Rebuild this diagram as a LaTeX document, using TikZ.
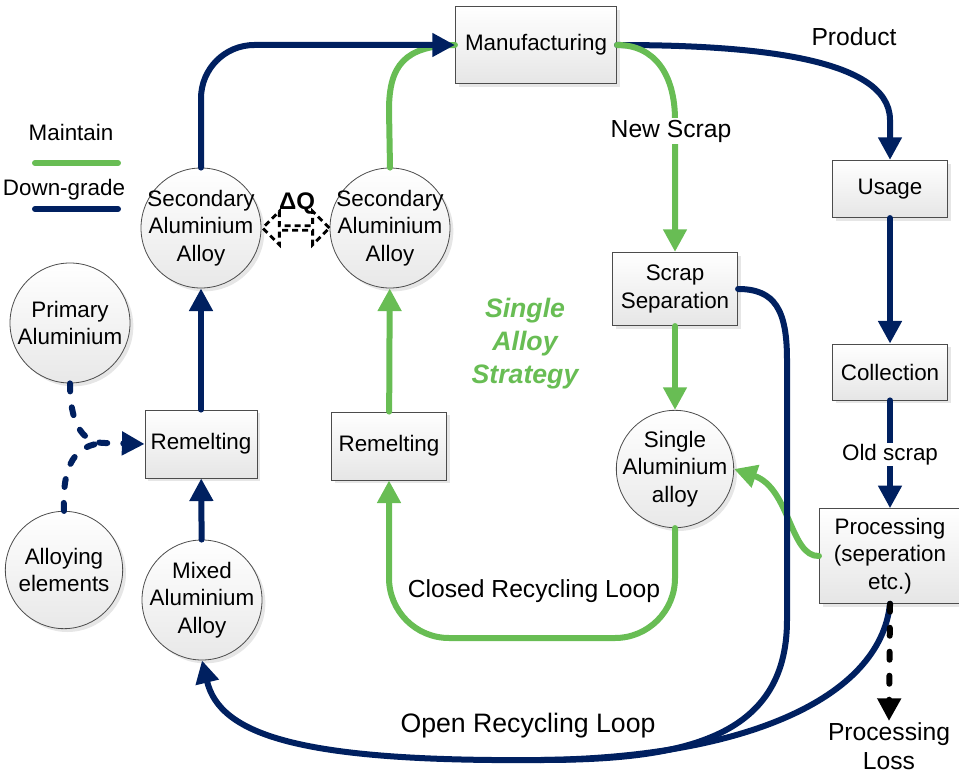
\documentclass[tikz,border=0pt]{standalone}
\usepackage{fontspec}
\setmainfont{Liberation Sans}
\usetikzlibrary{arrows.meta,positioning,shapes.arrows,shadows}
\definecolor{dgnavy}{RGB}{0,32,96}
\definecolor{mtgreen}{RGB}{104,189,84}

\begin{document}
\begin{tikzpicture}[x=0.75pt,y=-0.75pt,
	every node/.style={font=\fontsize{16.8}{20.6}\selectfont},
	stagebox/.style={draw=black!70,line width=0.6pt,top color=white,bottom color=black!10,
		drop shadow={shadow xshift=2.5pt,shadow yshift=-2.5pt,opacity=.2},align=center,inner sep=1pt},
	alloyball/.style={circle,draw=black!70,line width=0.6pt,top color=white,bottom color=black!9,
		drop shadow={shadow xshift=2.5pt,shadow yshift=-2.5pt,opacity=.2},align=center,inner sep=-5pt,minimum size=90pt},
	lbl/.style={align=center,inner sep=1pt},
	biglbl/.style={lbl,font=\fontsize{18.5}{21.5}\selectfont},
	bigtip/.style={-{Triangle[width=17pt,length=17pt]}},
	dgline/.style={draw=dgnavy,line width=4.5pt,line cap=round},
	mtline/.style={draw=mtgreen,line width=4.5pt,line cap=round},
	dgflow/.style={dgline,bigtip},
	mtflow/.style={mtline,bigtip},
	dashflow/.style={line width=4.5pt,line cap=round,dash pattern=on 6pt off 12pt,bigtip},
]
	\useasboundingbox (0,0) rectangle (959,773);

	\node[stagebox,minimum width=121pt,minimum height=58pt] (manu) at (536,45) {Manufacturing};
	\node[stagebox,minimum width=86pt,minimum height=43pt] (usage) at (890,189) {Usage};
	\node[stagebox,minimum width=86pt,minimum height=42pt] (collect) at (890,372) {Collection};
	\node[stagebox,minimum width=106pt,minimum height=71pt] (process) at (890,556) {Processing\\(seperation\\etc.)};
	\node[stagebox,minimum width=94pt,minimum height=55pt] (sep) at (675,289) {Scrap\\Separation};
	\node[stagebox,minimum width=84pt,minimum height=51pt] (remL) at (201,444) {Remelting};
	\node[stagebox,minimum width=86pt,minimum height=51pt] (remR) at (389,446) {Remelting};

	\node[alloyball] (secL) at (201,228) {Secondary\\Aluminium\\Alloy};
	\node[alloyball] (secR) at (390,228) {Secondary\\Aluminium\\Alloy};
	\node[alloyball] (prim) at (70,323) {Primary\\Aluminium};
	\node[alloyball,minimum size=88pt] (alloying) at (64,570) {Alloying\\elements};
	\node[alloyball] (mixed) at (202,600) {Mixed\\Aluminium\\Alloy};
	\node[alloyball,minimum size=88pt] (single) at (675,469) {Single\\Aluminium\\alloy};

	\node[biglbl] (loss) at (889,746) {Processing\\Loss};
	\node[biglbl] (product) at (854,37) {Product};
	\node[biglbl] (closedlbl) at (534,591) {Closed Recycling Loop};
	\node[lbl,font=\fontsize{20}{22}\selectfont] (openlbl) at (528,726) {Open Recycling Loop};
	\node[lbl,text=mtgreen,font=\fontsize{20}{24.8}\selectfont\bfseries\itshape] (strategy) at (525,344) {Single\\Alloy\\Strategy};

	\node[double arrow,draw=black,line width=2.2pt,dash pattern=on 4.5pt off 3pt,fill=white,
		minimum height=50pt,minimum width=25pt,double arrow head extend=7pt,inner sep=0pt] (dq) at (296,228) {};
	\node[font=\fontsize{18}{20}\selectfont\bfseries] (dqlbl) at (297,203) {ΔQ};

	\node (keeplbl) at (71,132) {Maintain};
	\node (downlbl) at (64,190) {Down-grade};
	\coordinate (keepA) at (35,163);
	\coordinate (keepB) at (118,163);
	\coordinate (downA) at (35,209);
	\coordinate (downB) at (118,209);
	\draw[mtline] (keepA) -- (keepB);
	\draw[dgline] (downA) -- (downB);

	\draw[mtline] (secR.north) -- (389,110) .. controls (389,65) and (405,46) .. (manu.west);
	\draw[dgflow,rounded corners=40pt] (secL.north) |- (manu.west);
	\draw[dgflow] (manu.east) .. controls (740,45) and (890,55) .. (890,120) -- (usage.north);
	\draw[mtflow] (manu.east) .. controls (655,45) and (675,75) .. (675,120) -- (sep.north);
	\node[biglbl,fill=white] (newscrap) at (671,131) {New Scrap};

	\draw[dgflow] (usage) -- (collect);
	\draw[dgflow] (collect) -- node[lbl,fill=white] (oldscrap) {Old scrap} (process);

	\draw[mtflow] (sep) -- (single);
	\draw[mtflow] (process.west) .. controls (790,557) and (790,488) .. (single.east);
	\draw[mtflow,rounded corners=45pt] (single.south) -- (675,638) -- (389,638) -- (remR.south);
	\draw[mtflow] (remR) -- (secR);

	\coordinate (merge) at (540,760);
	\draw[dgline] (process.south) .. controls (880,700) and (740,758) .. (merge);
	\draw[dgflow] (sep.east) .. controls (775,289) and (787,310) .. (787,360) -- (787,620)
		.. controls (787,740) and (680,760) .. (merge) .. controls (300,762) and (220,735) .. (mixed.south);
	\draw[dashflow,black] (process.south) -- (loss.north);

	\draw[dgflow] (mixed) -- (remL);
	\draw[dgflow] (remL) -- (secL);

	\coordinate (feed) at (105,443);
	\draw[dashflow,dgnavy,-] (alloying.north) .. controls (62,465) and (75,444) .. (feed);
	\draw[dashflow,dgnavy] (prim.south) .. controls (70,420) and (80,443) .. (feed) -- (remL.west);
\end{tikzpicture}
\end{document}
